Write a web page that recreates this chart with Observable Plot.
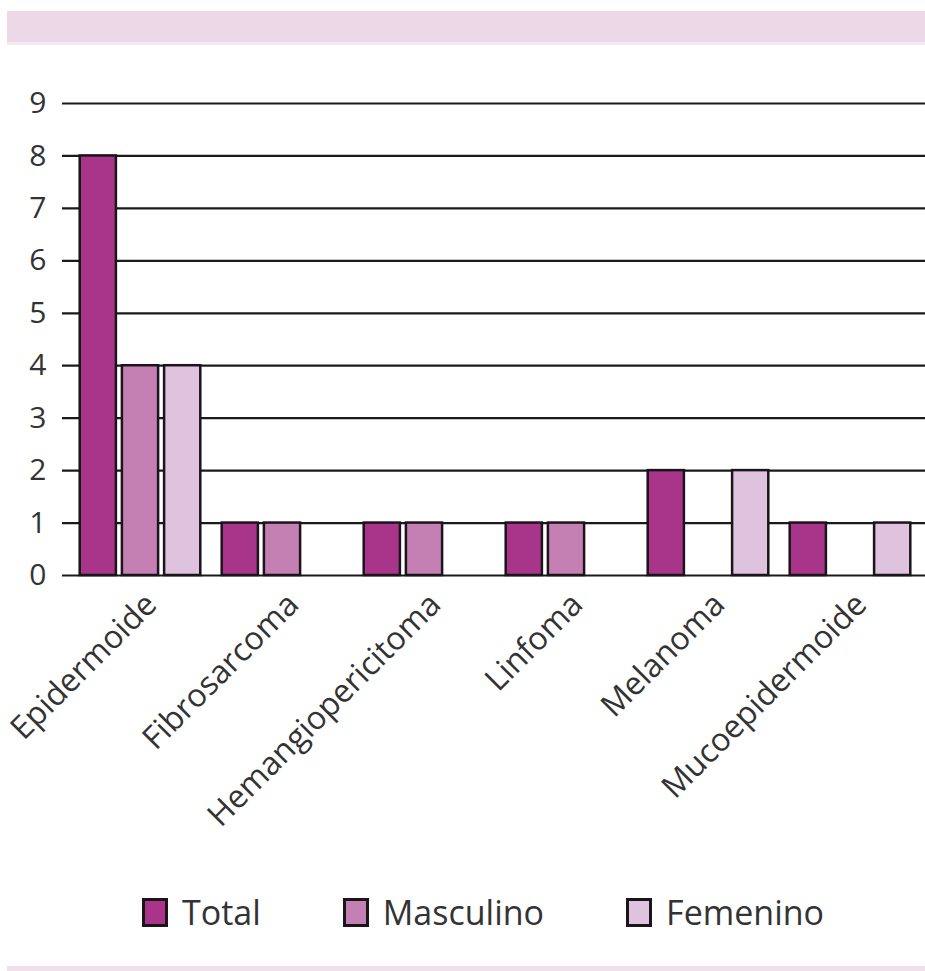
<!DOCTYPE html>
<html><head><meta charset="utf-8">
<script src="https://cdn.jsdelivr.net/npm/d3@7"></script>
<script src="https://cdn.jsdelivr.net/npm/@observablehq/plot@0.6"></script>
<style>
body{margin:0;background:#fff;font-family:"Open Sans",sans-serif;width:925px;height:971px;overflow:hidden;position:relative}
.band{position:absolute;left:7px;right:0;top:11px;height:31px;background:#edd8e8;border-bottom:3px solid #f5e8f2}
#chart{position:absolute;left:0;top:45px}
.legend{position:absolute;top:891px;left:142px;height:42px;display:flex;align-items:center;gap:82px;font-size:34px;color:#333;line-height:42px}
.item{display:flex;align-items:center}
.sw{width:20px;height:23px;border:3px solid #1b141a;margin-right:14px}
.bottom{position:absolute;left:7px;right:0;top:966px;height:5px;background:#f1e0ec}
</style>
</head><body>
<div class="band"></div>
<div id="chart"></div>
<div class="legend" id="legend"></div>
<div class="bottom"></div>
<script>
const categories = ["Epidermoide","Fibrosarcoma","Hemangiopericitoma","Linfoma","Melanoma","Mucoepidermoide"];
const series = ["Total","Masculino","Femenino"];
const total = [8,1,1,1,2,1];
const masculino = [4,1,1,1,0,0];
const femenino = [4,0,0,0,2,1];
const colors = ["#a8358a","#c47fb3","#dfc2dd"];
const yTicks = [0,1,2,3,4,5,6,7,8,9];

const values = [total, masculino, femenino];
const rows = [];
categories.forEach((c,i)=>series.forEach((s,j)=>rows.push({category:c, series:s, value:values[j][i]})));

const barMarks = series.map((s,j)=>Plot.barY(rows.filter(d=>d.series===s && d.value>0), {
  x:"category", y:"value", fill: colors[j], stroke:"#1b141a", strokeWidth:2.5,
  dx:(j-1)*42.2, insetLeft:52.9, insetRight:52.9
}));

const chart = Plot.plot({
  width:925, height:820,
  marginLeft:62, marginRight:0, marginTop:58, marginBottom:290,
  style:{fontSize:"30px", fontFamily:"'Open Sans',sans-serif", color:"#333", background:"transparent"},
  x:{domain:categories, paddingInner:0, paddingOuter:0.03, align:0.6, axis:null},
  y:{domain:[0,9], ticks:yTicks, tickSize:0, tickPadding:16, label:null, tickFormat:d=>String(d)},
  marks:[
    Plot.ruleY(yTicks, {stroke:"#1a1a1a", strokeWidth:2.2}),
    ...barMarks,
    Plot.text(categories, {x:d=>d, frameAnchor:"bottom", rotate:-45, textAnchor:"end",
      dx:18, dy:31, fontSize:32, fill:"#333"})
  ]
});
document.getElementById("chart").appendChild(chart);

const lg = document.getElementById("legend");
series.forEach((s,j)=>{
  const it = document.createElement("div"); it.className="item";
  const sw = document.createElement("div"); sw.className="sw"; sw.style.background=colors[j];
  const tx = document.createElement("span"); tx.textContent=s;
  it.appendChild(sw); it.appendChild(tx); lg.appendChild(it);
});
</script>
</body></html>
